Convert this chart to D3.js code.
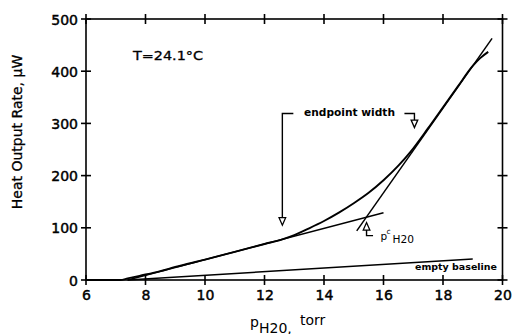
<!DOCTYPE html>
<html>
<head>
<meta charset="utf-8">
<script src="https://cdn.jsdelivr.net/npm/d3@7"></script>
<style>
  html, body { margin: 0; padding: 0; background: #fff; }
  svg { display: block; }
  text { font-family: "DejaVu Sans", sans-serif; fill: #000; }
</style>
</head>
<body>
<div id="chart"></div>
<script>
// ---- data ----
const xTicks = [6, 8, 10, 12, 14, 16, 18, 20];
const yTicks = [0, 100, 200, 300, 400, 500];

// measured heat output curve (torr, µW)
const curveX = [6, 7.15, 7.4, 7.8, 8.5, 9, 10, 11, 12, 12.6, 13, 13.5, 14, 14.5, 15, 15.5, 16, 16.5, 16.9, 17.5, 18, 18.5, 19, 19.25, 19.52];
const curveY = [0, 0, 3, 8, 17, 25, 39, 54, 69, 78, 86, 99, 113, 129, 147, 167, 191, 219, 245, 291, 331, 371, 410, 425, 437];

// low-pressure linear fit
const lowFitX = [7.4, 16.0];
const lowFitY = [0, 129];

// high-pressure linear fit
const highFitX = [15.1, 19.65];
const highFitY = [94, 463];

// empty baseline
const baseX = [7.4, 19.0];
const baseY = [0, 40];

// annotation anchors (data coords)
const epLeft = { x: 12.6, tip: 105, top: 319 };
const epRight = { x: 17.04, tip: 292, top: 319 };
const pcArrow = { x: 15.43, tip: 110 };

// ---- chart ----
const W = 512, H = 334;
const svg = d3.select("#chart").append("svg").attr("width", W).attr("height", H);

const x = d3.scaleLinear().domain([6, 20]).range([86, 502.5]);
const y = d3.scaleLinear().domain([0, 500]).range([280, 19]);

const ink = "#000";

// frame
svg.append("rect")
  .attr("x", x(6)).attr("y", y(500))
  .attr("width", x(20) - x(6)).attr("height", y(0) - y(500))
  .attr("fill", "none").attr("stroke", ink).attr("stroke-width", 1.6);

// tick labels via d3 axes (no tick lines)
const gB = svg.append("g").attr("transform", `translate(0,${y(0)})`)
  .call(d3.axisBottom(x).tickValues(xTicks).tickFormat(d3.format("d")).tickSize(0));
gB.select(".domain").remove();
gB.selectAll(".tick line").remove();
gB.selectAll(".tick text").attr("y", 10).attr("dy", "0.71em")
  .style("font-size", "14px").style("font-family", "DejaVu Sans, sans-serif")
  .attr("fill", ink).attr("stroke", ink).attr("stroke-width", 0.45);

const gL = svg.append("g").attr("transform", `translate(${x(6)},0)`)
  .call(d3.axisLeft(y).tickValues(yTicks).tickFormat(d3.format("d")).tickSize(0));
gL.select(".domain").remove();
gL.selectAll(".tick line").remove();
gL.selectAll(".tick text").attr("x", -8).attr("dy", "0.36em")
  .style("font-size", "14px").style("font-family", "DejaVu Sans, sans-serif")
  .attr("fill", ink).attr("stroke", ink).attr("stroke-width", 0.45);

// crossing tick marks on all four sides
const T = 5;
const tickG = svg.append("g").attr("stroke", ink).attr("stroke-width", 1.6);
[y(0), y(500)].forEach(yy => {
  tickG.selectAll(null).data(xTicks).enter().append("line")
    .attr("x1", d => x(d)).attr("x2", d => x(d))
    .attr("y1", yy - T).attr("y2", yy + T);
});
[x(6), x(20)].forEach(xx => {
  tickG.selectAll(null).data(yTicks).enter().append("line")
    .attr("y1", d => y(d)).attr("y2", d => y(d))
    .attr("x1", xx - T).attr("x2", xx + T);
});

// lines
const line = d3.line().x(d => x(d[0])).y(d => y(d[1]));
const zipXY = (xs, ys) => xs.map((v, i) => [v, ys[i]]);

svg.append("path").datum(zipXY(baseX, baseY))
  .attr("d", line).attr("fill", "none").attr("stroke", ink).attr("stroke-width", 1.5);

svg.append("path").datum(zipXY(lowFitX, lowFitY))
  .attr("d", line).attr("fill", "none").attr("stroke", ink).attr("stroke-width", 1.5);

svg.append("path").datum(zipXY(highFitX, highFitY))
  .attr("d", line).attr("fill", "none").attr("stroke", ink).attr("stroke-width", 1.5);

svg.append("path").datum(zipXY(curveX, curveY))
  .attr("d", d3.line().x(d => x(d[0])).y(d => y(d[1])).curve(d3.curveMonotoneX))
  .attr("fill", "none").attr("stroke", ink).attr("stroke-width", 1.9);

// annotations
function downArrow(cx, tipY) {
  svg.append("path")
    .attr("d", `M${cx - 3.3},${tipY - 7.5} L${cx + 3.3},${tipY - 7.5} L${cx},${tipY} Z`)
    .attr("fill", "#fff").attr("stroke", ink).attr("stroke-width", 1.3);
}
function upArrow(cx, tipY) {
  svg.append("path")
    .attr("d", `M${cx - 3.3},${tipY + 7.5} L${cx + 3.3},${tipY + 7.5} L${cx},${tipY} Z`)
    .attr("fill", "#fff").attr("stroke", ink).attr("stroke-width", 1.3);
}

// endpoint width brackets
const lx = x(epLeft.x), ly = y(epLeft.top);
svg.append("path")
  .attr("d", `M${lx + 11},${ly} L${lx},${ly} L${lx},${y(epLeft.tip) - 7.5}`)
  .attr("fill", "none").attr("stroke", ink).attr("stroke-width", 1.4);
downArrow(lx, y(epLeft.tip));

const rx = x(epRight.x), ry = y(epRight.top);
svg.append("path")
  .attr("d", `M${rx - 10},${ry} L${rx},${ry} L${rx},${y(epRight.tip) - 7.5}`)
  .attr("fill", "none").attr("stroke", ink).attr("stroke-width", 1.4);
downArrow(rx, y(epRight.tip));

svg.append("text").attr("x", 304).attr("y", 116)
  .attr("textLength", 91).attr("lengthAdjust", "spacingAndGlyphs")
  .style("font-size", "10px").style("font-weight", "bold").text("endpoint width");

// p^c H2O arrow
const px = x(pcArrow.x), py = y(pcArrow.tip);
upArrow(px, py);
svg.append("path")
  .attr("d", `M${px},${py + 7.5} L${px},${py + 13} L${px + 6.5},${py + 13}`)
  .attr("fill", "none").attr("stroke", ink).attr("stroke-width", 1.4);
svg.append("text").attr("x", 380.5).attr("y", 239.5).style("font-size", "10.5px").text("p");
svg.append("text").attr("x", 386.5).attr("y", 234).style("font-size", "7.5px").text("c");
svg.append("text").attr("x", 392.5).attr("y", 242.5)
  .attr("textLength", 21.5).attr("lengthAdjust", "spacingAndGlyphs")
  .style("font-size", "10px").text("H20");

// empty baseline label
svg.append("text").attr("x", 415).attr("y", 270)
  .attr("textLength", 82).attr("lengthAdjust", "spacingAndGlyphs")
  .style("font-size", "9px").style("font-weight", "bold").text("empty baseline");

// temperature
svg.append("text").attr("x", 133).attr("y", 60)
  .attr("textLength", 70).attr("lengthAdjust", "spacingAndGlyphs")
  .attr("stroke", ink).attr("stroke-width", 0.3)
  .style("font-size", "11.5px").text("T=24.1°C");

// axis titles
svg.append("text")
  .attr("transform", "translate(22,132) rotate(-90)")
  .attr("text-anchor", "middle").style("font-size", "14px")
  .attr("stroke", ink).attr("stroke-width", 0.3)
  .text("Heat Output Rate, μW");

svg.append("text").attr("x", 250).attr("y", 327).style("font-size", "14px").text("p");
svg.append("text").attr("x", 259).attr("y", 332.5).style("font-size", "14px").text("H20,");
svg.append("text").attr("x", 300).attr("y", 325).style("font-size", "14px").text("torr");
</script>
</body>
</html>
